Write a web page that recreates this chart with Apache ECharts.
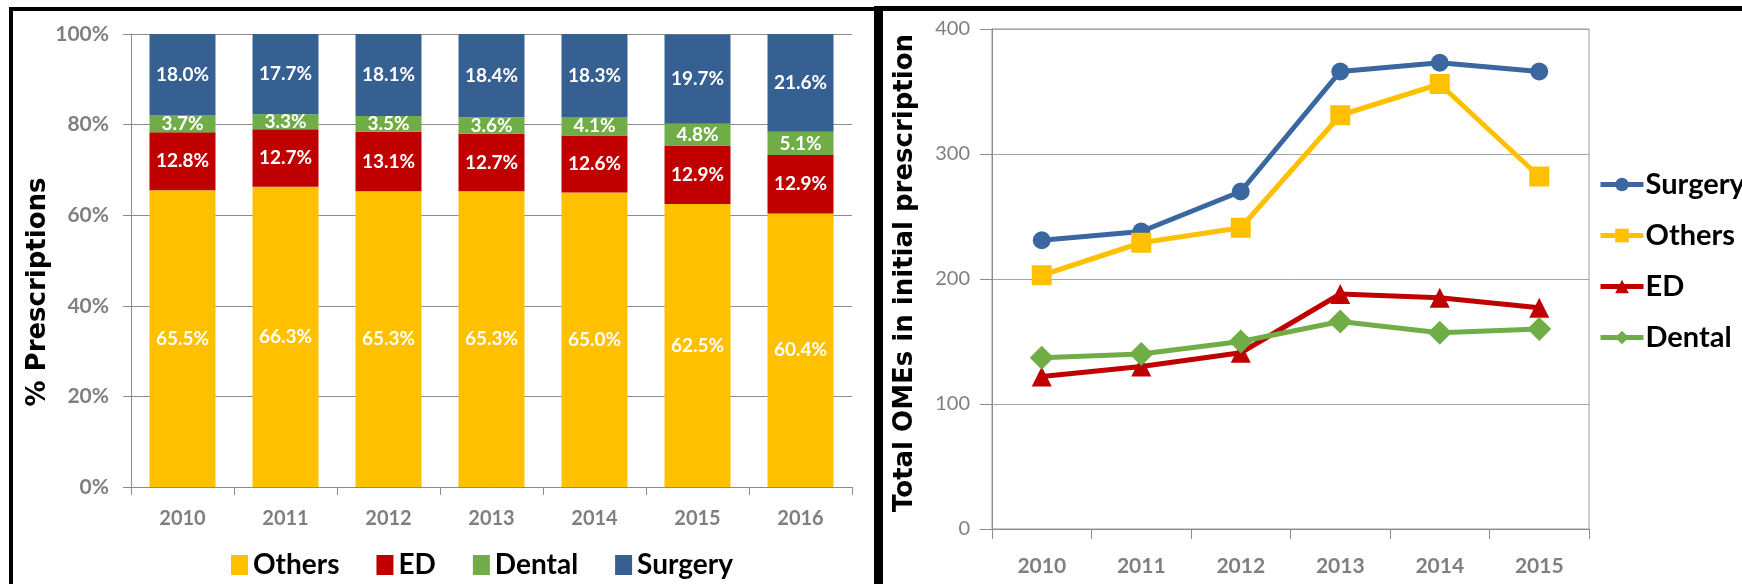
<!DOCTYPE html>
<html>
<head>
<meta charset="utf-8">
<script src="https://cdn.jsdelivr.net/npm/echarts@6/dist/echarts.min.js"></script>
<style>
  body { margin: 0; background: #fff; }
  #wrap { position: relative; width: 1742px; height: 584px; overflow: hidden; }
  #leftChart { position: absolute; left: 0; top: 0; width: 874px; height: 584px; }
  #rightChart { position: absolute; left: 883px; top: 0; width: 859px; height: 584px; }
  .frame { position: absolute; background: #000; z-index: 5; }
</style>
</head>
<body>
<div id="wrap">
  <div id="leftChart"></div>
  <div id="rightChart"></div>
  <!-- panel frames -->
  <div class="frame" style="left:9px;top:7px;width:867px;height:4px;"></div>
  <div class="frame" style="left:9px;top:7px;width:4px;height:577px;"></div>
  <div class="frame" style="left:874px;top:6px;width:9px;height:578px;"></div>
  <div class="frame" style="left:874px;top:6px;width:868px;height:5px;"></div>
</div>
<script>
// left: share of prescriptions (%)
const years = ["2010", "2011", "2012", "2013", "2014", "2015", "2016"];
const othersPct = [65.5, 66.3, 65.3, 65.3, 65.0, 62.5, 60.4];
const edPct = [12.8, 12.7, 13.1, 12.7, 12.6, 12.9, 12.9];
const dentalPct = [3.7, 3.3, 3.5, 3.6, 4.1, 4.8, 5.1];
const surgeryPct = [18.0, 17.7, 18.1, 18.4, 18.3, 19.7, 21.6];

// right: total OMEs in initial prescription
const lineYears = ["2010", "2011", "2012", "2013", "2014", "2015"];
const surgeryOME = [231, 238, 270, 366, 373, 366];
const othersOME = [203, 229, 241, 331, 356, 282];
const edOME = [122, 130, 141, 188, 185, 177];
const dentalOME = [137, 140, 150, 166, 157, 160];

const GRAY = "#7f7f7f";
const LABEL_FONT = "Lato";
const TITLE_FONT = "DejaVu Sans";

function barSeries(name, data, color) {
  return {
    name: name,
    type: "bar",
    stack: "total",
    barWidth: 66,
    data: data,
    itemStyle: { color: color },
    label: {
      show: true,
      position: "inside",
      color: "#fff",
      fontFamily: LABEL_FONT,
      fontWeight: "bold",
      fontSize: 19,
      formatter: (p) => p.value.toFixed(1) + "%",
    },
  };
}

const leftOption = {
  animation: false,
  grid: { left: 131, top: 34, width: 721, height: 453 },
  legend: {
    left: 226,
    top: 546,
    icon: "rect",
    itemWidth: 17,
    itemHeight: 20,
    itemGap: 37,
    data: ["Others", "ED", "Dental", "Surgery"],
    textStyle: { fontFamily: LABEL_FONT, fontWeight: "bold", fontSize: 28, color: "#000" },
  },
  xAxis: {
    type: "category",
    data: years,
    axisLine: { lineStyle: { color: "#8c8c8c" } },
    axisTick: { show: true, length: 8, lineStyle: { color: "#8c8c8c" } },
    axisLabel: { color: GRAY, fontFamily: LABEL_FONT, fontWeight: "bold", fontSize: 20, margin: 22 },
  },
  yAxis: {
    type: "value",
    min: 0,
    max: 100,
    interval: 20,
    axisLine: { show: true, lineStyle: { color: "#8c8c8c" } },
    axisTick: { show: true, length: 8, lineStyle: { color: "#8c8c8c" } },
    splitLine: { lineStyle: { color: "#8c8c8c" } },
    axisLabel: {
      color: GRAY, fontFamily: LABEL_FONT, fontWeight: "bold", fontSize: 21, margin: 22,
      formatter: "{value}%",
    },
  },
  graphic: [
    {
      type: "text",
      x: 38,
      y: 292,
      rotation: Math.PI / 2,
      style: {
        text: "% Prescriptions",
        fill: "#000",
        font: "bold 26px '" + TITLE_FONT + "'",
        align: "center",
        verticalAlign: "middle",
      },
    },
  ],
  series: [
    barSeries("Others", othersPct, "#FFC000"),
    barSeries("ED", edPct, "#C00000"),
    barSeries("Dental", dentalPct, "#70AD47"),
    barSeries("Surgery", surgeryPct, "#376092"),
  ],
};

function lineSeries(name, data, color, symbol, size) {
  return {
    name: name,
    type: "line",
    data: data,
    symbol: symbol,
    symbolSize: size,
    lineStyle: { color: color, width: 5 },
    itemStyle: { color: color },
  };
}

const rightOption = {
  animation: false,
  grid: {
    left: 109, top: 29, width: 597, height: 500,
    show: true, borderColor: "#999", borderWidth: 1,
  },
  legend: {
    orient: "vertical",
    left: 710,
    top: 164,
    itemWidth: 43,
    itemHeight: 17,
    itemGap: 20,
    data: ["Surgery", "Others", "ED", "Dental"],
    lineStyle: { width: 5 },
    textStyle: {
      fontFamily: LABEL_FONT, fontWeight: "bold", fontSize: 29, color: "#000",
      lineHeight: 31, padding: [0, 0, 0, -3],
    },
  },
  xAxis: {
    type: "category",
    data: lineYears,
    axisLine: { lineStyle: { color: "#8c8c8c" } },
    axisTick: { show: true, length: 10, lineStyle: { color: "#8c8c8c" } },
    axisLabel: { color: GRAY, fontFamily: LABEL_FONT, fontWeight: "bold", fontSize: 21, margin: 27 },
  },
  yAxis: {
    type: "value",
    min: 0,
    max: 400,
    interval: 100,
    axisLine: { show: true, lineStyle: { color: "#8c8c8c" } },
    axisTick: { show: true, length: 12, lineStyle: { color: "#8c8c8c" } },
    splitLine: { lineStyle: { color: "#a6a6a6" } },
    axisLabel: { color: GRAY, fontFamily: LABEL_FONT, fontSize: 20, margin: 22 },
  },
  graphic: [
    {
      type: "text",
      x: 22,
      y: 273,
      rotation: Math.PI / 2,
      style: {
        text: "Total OMEs in initial prescription",
        fill: "#000",
        font: "bold 26px '" + TITLE_FONT + "'",
        align: "center",
        verticalAlign: "middle",
      },
    },
  ],
  series: [
    lineSeries("Surgery", surgeryOME, "#3B67A0", "circle", 18),
    lineSeries("Others", othersOME, "#FFC000", "rect", 20),
    lineSeries("ED", edOME, "#C00000", "triangle", 20),
    lineSeries("Dental", dentalOME, "#70AD47", "diamond", 24),
  ],
};

const leftChart = echarts.init(document.getElementById("leftChart"));
leftChart.setOption(leftOption);
const rightChart = echarts.init(document.getElementById("rightChart"));
rightChart.setOption(rightOption);
</script>
</body>
</html>
